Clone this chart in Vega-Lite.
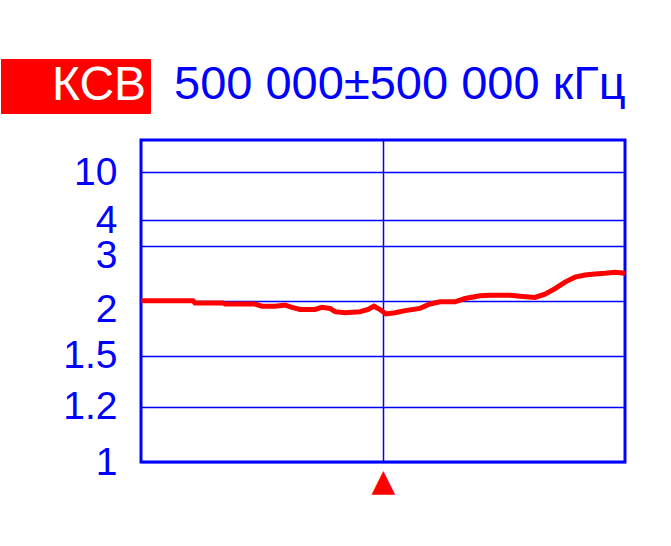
{
  "$schema": "https://vega.github.io/schema/vega-lite/v6.json",
  "width": 484,
  "height": 322,
  "autosize": {"type": "none"},
  "padding": {"left": 141, "top": 140, "right": 46, "bottom": 84},
  "background": "white",
  "title": {
    "text": "500 000±500 000 кГц",
    "anchor": "start",
    "frame": "group",
    "dx": 33,
    "offset": -50,
    "color": "#0000ff",
    "font": "Liberation Sans",
    "fontSize": 47,
    "fontWeight": "normal"
  },
  "data": {
    "values": [
      {"freq_khz": 0, "swr": 2.00},
      {"freq_khz": 39256, "swr": 2.00},
      {"freq_khz": 107438, "swr": 2.00},
      {"freq_khz": 111570, "swr": 1.98},
      {"freq_khz": 169421, "swr": 1.98},
      {"freq_khz": 173554, "swr": 1.97},
      {"freq_khz": 235537, "swr": 1.97},
      {"freq_khz": 250000, "swr": 1.95},
      {"freq_khz": 276860, "swr": 1.95},
      {"freq_khz": 297521, "swr": 1.96},
      {"freq_khz": 311983, "swr": 1.94},
      {"freq_khz": 328512, "swr": 1.92},
      {"freq_khz": 359504, "swr": 1.92},
      {"freq_khz": 373967, "swr": 1.94},
      {"freq_khz": 390496, "swr": 1.93},
      {"freq_khz": 400826, "swr": 1.90},
      {"freq_khz": 421488, "swr": 1.89},
      {"freq_khz": 452479, "swr": 1.90},
      {"freq_khz": 469008, "swr": 1.92},
      {"freq_khz": 481405, "swr": 1.95},
      {"freq_khz": 493802, "swr": 1.92},
      {"freq_khz": 506198, "swr": 1.88},
      {"freq_khz": 524793, "swr": 1.89},
      {"freq_khz": 545455, "swr": 1.91},
      {"freq_khz": 576446, "swr": 1.93},
      {"freq_khz": 597107, "swr": 1.97},
      {"freq_khz": 617769, "swr": 1.99},
      {"freq_khz": 648760, "swr": 1.99},
      {"freq_khz": 669421, "swr": 2.04},
      {"freq_khz": 700413, "swr": 2.09},
      {"freq_khz": 721074, "swr": 2.10},
      {"freq_khz": 741736, "swr": 2.10},
      {"freq_khz": 762397, "swr": 2.10},
      {"freq_khz": 783058, "swr": 2.08},
      {"freq_khz": 814050, "swr": 2.06},
      {"freq_khz": 834711, "swr": 2.12},
      {"freq_khz": 855372, "swr": 2.22},
      {"freq_khz": 876033, "swr": 2.34},
      {"freq_khz": 896694, "swr": 2.43},
      {"freq_khz": 917355, "swr": 2.47},
      {"freq_khz": 938017, "swr": 2.49},
      {"freq_khz": 958678, "swr": 2.50},
      {"freq_khz": 979339, "swr": 2.52},
      {"freq_khz": 1000000, "swr": 2.50}
    ]
  },
  "mark": {"type": "line", "strokeWidth": 5},
  "encoding": {
    "x": {
      "field": "freq_khz",
      "type": "quantitative",
      "scale": {"domain": [0, 1000000], "nice": false, "zero": false},
      "axis": {
        "values": [500000],
        "labelExpr": "'▲'",
        "labelColor": "#ff0000",
        "labelFont": "DejaVu Sans",
        "labelFontSize": 31,
        "labelPadding": 4,
        "labelFlush": false,
        "ticks": false,
        "domain": false,
        "grid": true,
        "gridColor": "#0000ff",
        "gridWidth": 1.5,
        "gridOpacity": 1,
        "title": null
      }
    },
    "y": {
      "field": "swr",
      "type": "quantitative",
      "scale": {
        "domain": [1, 1.2, 1.5, 2, 3, 4, 10, 20],
        "range": [322, 266.7, 215.7, 160.7, 106, 80, 32.3, 0],
        "nice": false,
        "zero": false
      },
      "axis": {
        "values": [1, 1.2, 1.5, 2, 3, 4, 10],
        "format": "~g",
        "labelColor": "#0000ff",
        "labelFont": "Liberation Sans",
        "labelFontSize": 39,
        "labelPadding": 24,
        "labelOffset": {"condition": {"test": "datum.value === 3 || datum.value === 2", "value": 9}, "value": 0},
        "labelOverlap": false,
        "labelFlush": false,
        "ticks": false,
        "domain": false,
        "grid": true,
        "gridColor": "#0000ff",
        "gridWidth": 1.5,
        "gridOpacity": 1,
        "title": null
      }
    },
    "color": {
      "datum": "КСВ",
      "scale": {"range": ["#ff0000"]},
      "legend": {
        "orient": "none",
        "legendX": -140,
        "legendY": -81,
        "title": null,
        "fillColor": "#ff0000",
        "strokeColor": "#ff0000",
        "padding": 3,
        "cornerRadius": 0,
        "labelColor": "#ffffff",
        "labelFont": "Liberation Sans",
        "labelFontSize": 48,
        "labelAlign": "left",
        "labelOffset": 0,
        "labelLimit": 0,
        "symbolType": "square",
        "symbolSize": 0,
        "symbolOpacity": 0,
        "symbolStrokeWidth": 0
      }
    }
  },
  "config": {"view": {"stroke": "#0000ff", "strokeWidth": 3}}
}
